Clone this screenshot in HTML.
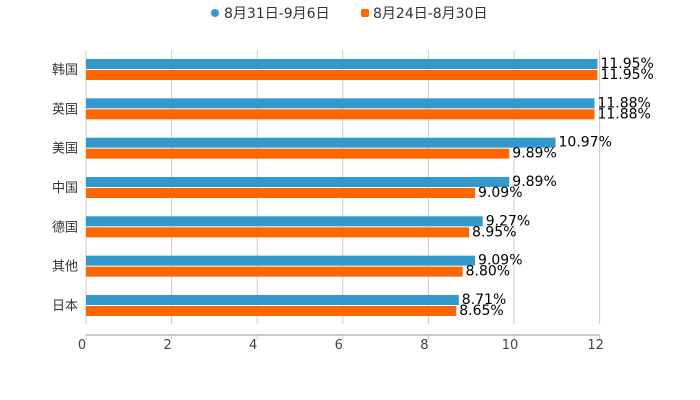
<!DOCTYPE html>
<html><head><meta charset="utf-8"><style>
body{margin:0;background:#fff;}
svg{display:block;font-family:"DejaVu Sans","Noto Sans CJK SC",sans-serif;}
</style></head><body>
<svg id="chart" width="700" height="400">
<g id="legend">
 <g>
  <circle cx="215" cy="13" r="4" fill="#3399cc"/>
  <text x="224" y="18" font-size="14" fill="#333">8月31日-9月6日</text>
 </g>
 <g>
  <rect x="361" y="9" width="8" height="8" rx="2" fill="#ff6600"/>
  <text x="373" y="18" font-size="14" fill="#333">8月24日-8月30日</text>
 </g>
</g>
<g id="grid"></g><g id="bars"></g><g id="axis"></g>
</svg>
<script>
const categories=["韩国","英国","美国","中国","德国","其他","日本"];
const seriesA=[11.95,11.88,10.97,9.89,9.27,9.09,8.71];
const seriesB=[11.95,11.88,9.89,9.09,8.95,8.80,8.65];
const ticks=[0,2,4,6,8,10,12];
const NS="http://www.w3.org/2000/svg";
const x0=86,unit=42.8,top0=59,step=39.33,bh=10;
const xs=v=>x0+v*unit;
function mk(t,a,p){const e=document.createElementNS(NS,t);for(const k in a)e.setAttribute(k,a[k]);p.appendChild(e);return e;}
const grid=document.getElementById('grid'),bars=document.getElementById('bars'),axis=document.getElementById('axis');
ticks.forEach(t=>{
 const g=mk('line',{x1:xs(t),x2:xs(t),y1:50,y2:324,stroke:'#ccc','stroke-width':1},grid);
 
 
 const tk=mk('line',{x1:xs(t),x2:xs(t),y1:335,y2:340,stroke:'#ccc'},axis);
 
 
 const tl=mk('text',{x:xs(t)-4,y:349,'font-size':13,fill:'#444','text-anchor':'middle'},axis);
 tl.textContent=t;
 
 
});
const ax=mk('line',{x1:x0,x2:xs(12),y1:335,y2:335,stroke:'#999'},axis);


categories.forEach((c,i)=>{
 const y=top0+i*step;
 const cl=mk('text',{x:78,y:y+15,'font-size':13,fill:'#333','text-anchor':'end'},axis);
 cl.textContent=c;
 
 
 [[seriesA[i],'#3399cc',y],[seriesB[i],'#ff6600',y+11]].forEach(([v,col,yy],k)=>{
  const r=mk('rect',{x:x0,y:yy,width:xs(v)-x0,height:bh,fill:col},bars);
  
  
  const l=mk('text',{x:xs(v)+3,y:yy+9,'font-size':14,fill:'#000'},bars);
  l.textContent=v.toFixed(2)+'%';
  
  
 });
});
</script>
</body></html>
